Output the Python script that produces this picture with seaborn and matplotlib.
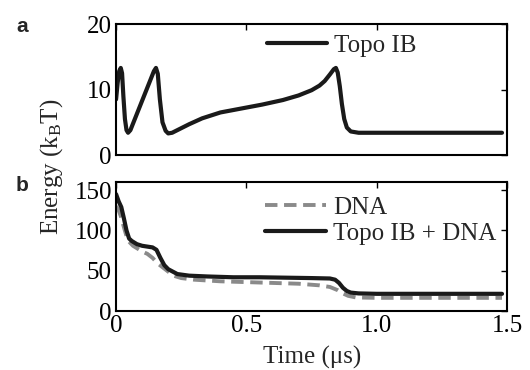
import numpy as np
import pandas as pd
import seaborn as sns
import matplotlib.pyplot as plt

sns.set_theme(style="white")
plt.rcParams['font.family'] = ['Liberation Serif', 'DejaVu Serif']
plt.rcParams['mathtext.fontset'] = 'custom'
plt.rcParams['mathtext.rm'] = 'Liberation Serif'
plt.rcParams['mathtext.it'] = 'Liberation Serif:italic'

# ---- data ----
topo_t = [0.000, 0.006, 0.012, 0.018, 0.023, 0.028, 0.034, 0.040, 0.046, 0.055,
          0.07, 0.09, 0.11, 0.13, 0.145, 0.153, 0.160, 0.168, 0.178, 0.19, 0.20,
          0.215, 0.24, 0.28, 0.33, 0.40, 0.48, 0.56, 0.64, 0.70, 0.75, 0.78, 0.80,
          0.82, 0.835, 0.843, 0.850, 0.858, 0.866, 0.875, 0.885, 0.90, 0.93, 1.0,
          1.2, 1.48]
topo_e = [8.5, 11.0, 12.8, 13.3, 12.5, 9.0, 5.5, 3.8, 3.4, 3.8,
          5.3, 7.3, 9.3, 11.3, 12.8, 13.3, 12.4, 8.5, 5.0, 3.7, 3.3,
          3.4, 3.9, 4.7, 5.6, 6.5, 7.1, 7.7, 8.4, 9.1, 9.9, 10.6, 11.3,
          12.3, 13.1, 13.3, 12.6, 10.5, 7.8, 5.5, 4.2, 3.6, 3.4, 3.4,
          3.4, 3.4]

dna_t = [0, 0.01, 0.02, 0.03, 0.04, 0.05, 0.065, 0.08, 0.1, 0.12, 0.14, 0.16,
         0.18, 0.2, 0.22, 0.25, 0.3, 0.4, 0.5, 0.6, 0.7, 0.78, 0.82, 0.85, 0.87,
         0.89, 0.92, 1.0, 1.2, 1.48]
dna_e = [130, 125, 116, 104, 93, 86, 81, 78, 74, 71, 66, 59,
         54, 49, 44, 41, 39, 37, 36, 35, 34, 32, 30, 26, 22,
         19, 17, 16.5, 16.5, 16.5]

both_t = [0, 0.01, 0.02, 0.03, 0.04, 0.05, 0.06, 0.08, 0.10, 0.12, 0.14, 0.155,
          0.17, 0.185, 0.20, 0.235, 0.28, 0.35, 0.45, 0.55, 0.65, 0.75, 0.82,
          0.84, 0.855, 0.87, 0.885, 0.90, 0.93, 1.0, 1.2, 1.48]
both_e = [145, 136, 129, 115, 100, 90, 87, 83, 81, 80, 79, 76,
          66, 57, 52, 46, 44, 43, 42, 42, 41.5, 41, 40.5,
          39, 35, 29, 25, 23, 22, 21.5, 21.5, 21.5]

x_ticks = [0, 0.5, 1.0, 1.5]
x_tick_labels = ["0", "0.5", "1.0", "1.5"]

df_topo = pd.DataFrame({"t": topo_t, "e": topo_e})
df_dna = pd.DataFrame({"t": dna_t, "e": dna_e})
df_both = pd.DataFrame({"t": both_t, "e": both_e})

FS = 18
fig = plt.figure(figsize=(5.3, 3.7), dpi=100)
ax1 = fig.add_axes([0.219, 0.581, 0.738, 0.354])
ax2 = fig.add_axes([0.219, 0.159, 0.738, 0.349])

sns.lineplot(data=df_topo, x="t", y="e", ax=ax1, color="#1a1a1a", lw=3.0,
             label="Topo IB", sort=False)
sns.lineplot(data=df_dna, x="t", y="e", ax=ax2, color="#8a8a8a", lw=2.8,
             label="DNA", sort=False, linestyle=(0, (3.2, 1.7)))
sns.lineplot(data=df_both, x="t", y="e", ax=ax2, color="#1a1a1a", lw=3.0,
             label="Topo IB + DNA", sort=False)

for ax in (ax1, ax2):
    ax.set_xlim(0, 1.5)
    ax.set_xticks(x_ticks)
    ax.tick_params(direction="in", top=True, right=True, length=4, width=1,
                   labelsize=FS, pad=3, colors="black")
    for s in ax.spines.values():
        s.set_color("black")
        s.set_linewidth(1.5)
    ax.set_xlabel("")
    ax.set_ylabel("")

ax1.set_ylim(0, 20)
ax1.set_yticks([0, 10, 20])
ax1.set_xticklabels([])
ax2.set_ylim(0, 160)
ax2.set_yticks([0, 50, 100, 150])
ax2.set_xticklabels(x_tick_labels)

ax1.legend(loc="upper left", bbox_to_anchor=(0.385, 0.92), frameon=False,
           fontsize=FS, handlelength=2.4, handletextpad=0.3, borderpad=0,
           borderaxespad=0)
ax2.legend(loc="upper left", bbox_to_anchor=(0.380, 0.89), frameon=False,
           fontsize=FS, handlelength=2.45, handletextpad=0.3, borderpad=0,
           borderaxespad=0, labelspacing=0.15)

fig.text(0.588, 0.003, "Time (\u03bcs)", ha="center", va="bottom", fontsize=FS)
fig.text(0.098, 0.548, "Energy (k$_\\mathrm{B}$T)", rotation=90, ha="center",
         va="center", fontsize=FS)
fig.text(0.030, 0.955, "a", fontsize=15, fontweight="bold",
         family=["Liberation Sans", "DejaVu Sans"], ha="left", va="top")
fig.text(0.030, 0.525, "b", fontsize=15, fontweight="bold",
         family=["Liberation Sans", "DejaVu Sans"], ha="left", va="top")

fig.savefig("out.png", dpi=100)
